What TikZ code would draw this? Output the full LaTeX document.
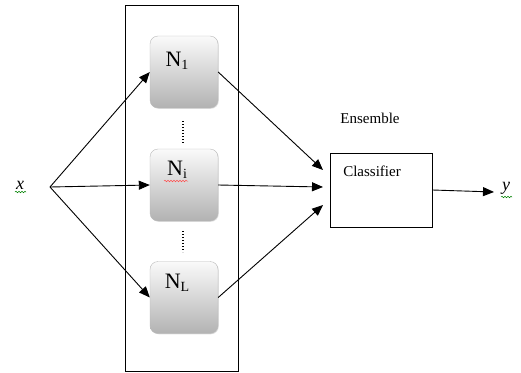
\documentclass[tikz,border=0pt]{standalone}
\usepackage{fontspec}
\setmainfont{Liberation Serif}
\usetikzlibrary{arrows.meta,shadows,decorations.pathmorphing}
\tikzset{
  nbox/.style={draw=gray!55, rounded corners=8pt, minimum width=68pt, minimum height=72pt,
    top color=gray!4, bottom color=gray!60, inner sep=0pt,
    drop shadow={opacity=0.25, shadow xshift=0.8pt, shadow yshift=-0.8pt}},
  nlabel/.style={font=\fontsize{22}{22}\selectfont, inner sep=0pt},
  conn/.style={line width=0.9pt, -{Triangle[length=11pt,width=9pt]}},
  txt/.style={font=\fontsize{15}{15}\selectfont, inner sep=0pt},
  itx/.style={font=\fontsize{18}{18}\selectfont\itshape, inner sep=0pt},
  squig/.style={decorate, decoration={snake, amplitude=0.8pt, segment length=3pt}, line width=0.5pt},
  dotsline/.style={line width=1.4pt, dash pattern=on 1pt off 2pt}
}
\begin{document}
\begin{tikzpicture}[x=1pt,y=-1pt]
\useasboundingbox (0,0) rectangle (521,372);
% outer frame
\node[draw, line width=0.9pt, minimum width=113pt, minimum height=366pt, inner sep=0pt] (frame) at (181.5,188) {};
% N boxes
\node[nbox] (N1) at (184,72) {};
\node[nbox] (Ni) at (184,185) {};
\node[nbox] (NL) at (184,297.5) {};
\node[nlabel] (l1) at (177,61) {N\raisebox{-3pt}{\fontsize{14}{14}\selectfont 1}};
\node[nlabel] (li) at (177,170) {N\raisebox{-3pt}{\fontsize{14}{14}\selectfont i}};
\node[nlabel] (lL) at (177,283) {N\raisebox{-3pt}{\fontsize{14}{14}\selectfont L}};
\draw[squig, red!70] (164,181) -- (188,181);
% dots
\coordinate (d1a) at (183,121); \coordinate (d1b) at (183,144);
\coordinate (d2a) at (183,231); \coordinate (d2b) at (183,252);
\draw[dotsline] (d1a) -- (d1b);
\draw[dotsline] (d2a) -- (d2b);
% input
\node[itx] (x) at (20,185) {x};
\draw[squig, green!50!black] (15,192) -- (26,192);
\coordinate (fan) at (50,187);
\draw[conn] (fan) -- (N1.west);
\draw[conn] (fan) -- (Ni.west);
\draw[conn] (fan) -- (NL.west);
% classifier
\node[draw, line width=0.9pt, minimum width=102pt, minimum height=74pt, inner sep=0pt] (C) at (381,190) {};
\node[txt] (ctext) at (372,171) {Classifier};
\node[txt] (ens) at (370,118) {Ensemble};
\coordinate (c1) at (323,170);
\coordinate (c2) at (323,187);
\coordinate (c3) at (323,205);
\draw[conn] (N1.east) -- (c1);
\draw[conn] (Ni.east) -- (c2);
\draw[conn] (NL.east) -- (c3);
% output
\coordinate (yin) at (494,192);
\draw[conn] (C.east) -- (yin);
\node[itx] (y) at (506,188) {y};
\draw[squig, green!50!black] (501,197) -- (512,197);
\end{tikzpicture}
\end{document}
